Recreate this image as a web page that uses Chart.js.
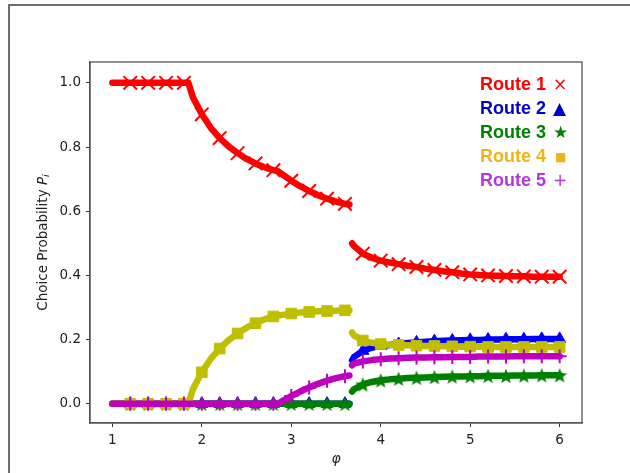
<!DOCTYPE html>
<html>
<head>
<meta charset="utf-8">
<script src="https://cdn.jsdelivr.net/npm/chart.js@4.4.0/dist/chart.umd.min.js"></script>
<style>
  html, body { margin: 0; padding: 0; background: #fff; }
  #wrap { width: 630px; height: 473px; }
</style>
</head>
<body>
<div id="wrap"><canvas id="chart" width="630" height="473"></canvas></div>
<script>
// phi grid before and after the jump
const phiLeft = [1.0, 1.1, 1.2, 1.3, 1.4, 1.5, 1.6, 1.7, 1.8, 1.85, 1.9, 2.0, 2.1, 2.2, 2.3, 2.4, 2.5,
  2.6, 2.7, 2.8, 2.85, 2.9, 3.0, 3.1, 3.2, 3.3, 3.4, 3.5, 3.6, 3.65];
const phiRight = [3.68, 3.7, 3.8, 3.9, 4.0, 4.1, 4.2, 4.3, 4.4, 4.5, 4.6, 4.7, 4.8, 4.9, 5.0,
  5.1, 5.2, 5.3, 5.4, 5.5, 5.6, 5.7, 5.8, 5.9, 6.0];

const route1Left = [1, 1, 1, 1, 1, 1, 1, 1, 1, 1, 0.955, 0.902, 0.86, 0.828, 0.802, 0.781, 0.763,
  0.749, 0.737, 0.728, 0.725, 0.715, 0.695, 0.678, 0.663, 0.65, 0.639, 0.63, 0.623, 0.621];
const route2Left = [0, 0, 0, 0, 0, 0, 0, 0, 0, 0, 0, 0, 0, 0, 0, 0, 0, 0, 0, 0, 0, 0, 0, 0, 0, 0, 0, 0, 0, 0];
const route3Left = [0, 0, 0, 0, 0, 0, 0, 0, 0, 0, 0, 0, 0, 0, 0, 0, 0, 0, 0, 0, 0, 0, 0, 0, 0, 0, 0, 0, 0, 0];
const route4Left = [0, 0, 0, 0, 0, 0, 0, 0, 0, 0, 0.045, 0.098, 0.14, 0.172, 0.198, 0.219, 0.237,
  0.251, 0.263, 0.272, 0.275, 0.277, 0.281, 0.284, 0.286, 0.288, 0.289, 0.29, 0.291, 0.291];
const route5Left = [0, 0, 0, 0, 0, 0, 0, 0, 0, 0, 0, 0, 0, 0, 0, 0, 0, 0, 0, 0, 0, 0.008, 0.024,
  0.038, 0.051, 0.062, 0.072, 0.08, 0.086, 0.088];

const route1Right = [0.50, 0.492, 0.468, 0.455, 0.446, 0.440, 0.435, 0.430, 0.426, 0.421, 0.417, 0.413,
  0.410, 0.406, 0.403, 0.401, 0.400, 0.399, 0.398, 0.397, 0.397, 0.396, 0.396, 0.396, 0.396];
const route2Right = [0.135, 0.145, 0.165, 0.175, 0.180, 0.183, 0.186, 0.189, 0.191, 0.193, 0.195, 0.196,
  0.197, 0.198, 0.199, 0.199, 0.200, 0.200, 0.201, 0.201, 0.201, 0.202, 0.202, 0.202, 0.202];
const route3Right = [0.038, 0.045, 0.060, 0.068, 0.073, 0.076, 0.078, 0.080, 0.081, 0.082, 0.083, 0.084,
  0.085, 0.085, 0.086, 0.086, 0.087, 0.087, 0.087, 0.088, 0.088, 0.088, 0.089, 0.089, 0.089];
const route4Right = [0.222, 0.213, 0.197, 0.190, 0.186, 0.184, 0.183, 0.182, 0.181, 0.180, 0.180, 0.179,
  0.179, 0.178, 0.178, 0.178, 0.177, 0.177, 0.177, 0.177, 0.177, 0.177, 0.177, 0.177, 0.177];
const route5Right = [0.120, 0.125, 0.132, 0.136, 0.139, 0.141, 0.142, 0.143, 0.144, 0.144, 0.145, 0.145,
  0.146, 0.146, 0.146, 0.147, 0.147, 0.147, 0.147, 0.148, 0.148, 0.148, 0.148, 0.148, 0.148];

const routeNames = ['Route 1', 'Route 2', 'Route 3', 'Route 4', 'Route 5'];
const legendSymbols = ['\u00d7', '\u25b2', '\u2605', '\u25a0', '+'];
const legendSymbolSize = [17, 17, 17, 12, 17];
const xTicks = [1, 2, 3, 4, 5, 6];
const yTicks = [0, 0.2, 0.4, 0.6, 0.8, 1.0];

const lineColors = ['#ff0000', '#0000ff', '#008000', '#bfbf00', '#bf00bf'];
const textColors = ['#ff0000', '#0000cc', '#008000', '#f0b418', '#b437dc'];

// filled five point star for route 3
function starImage(size, color) {
  const c = document.createElement('canvas');
  c.width = size; c.height = size;
  const g = c.getContext('2d');
  const cx = size / 2, cy = size / 2 + 0.8, R = size / 2, r = R * 0.42;
  g.beginPath();
  for (let i = 0; i < 10; i++) {
    const rad = (i % 2 === 0) ? R : r;
    const a = -Math.PI / 2 + i * Math.PI / 5;
    g.lineTo(cx + rad * Math.cos(a), cy + rad * Math.sin(a));
  }
  g.closePath();
  g.fillStyle = color;
  g.fill();
  return c;
}

const allPhi = [...phiLeft, null, ...phiRight];
const marked = p => p !== null && p > 1.1 && Math.abs(p * 5 - Math.round(p * 5)) < 1e-6;

function series(left, right) {
  return [
    ...phiLeft.map((x, i) => ({ x, y: left[i] })),
    { x: 3.665, y: null },
    ...phiRight.map((x, i) => ({ x, y: right[i] }))
  ];
}

const markers = [
  { style: 'crossRot', r: 9.5, w: 2 },
  { style: 'triangle', r: 7, w: 1 },
  { style: starImage(16, '#008000'), r: 7, w: 1 },
  { style: 'rect', r: 7.5, w: 1 },
  { style: 'cross', r: 7, w: 2 }
];

const values = [
  [route1Left, route1Right],
  [route2Left, route2Right],
  [route3Left, route3Right],
  [route4Left, route4Right],
  [route5Left, route5Right]
];

const datasets = values.map((v, k) => ({
  label: routeNames[k],
  data: series(v[0], v[1]),
  borderColor: lineColors[k],
  backgroundColor: lineColors[k],
  borderWidth: 6.5,
  borderCapStyle: 'round',
  borderJoinStyle: 'round',
  tension: 0,
  spanGaps: false,
  pointStyle: markers[k].style,
  pointRadius: allPhi.map(p => marked(p) ? markers[k].r : 0),
  pointBorderWidth: markers[k].w,
  pointBorderColor: lineColors[k],
  pointBackgroundColor: lineColors[k],
  order: 5 - k
}));

const tickFont = { family: '"DejaVu Sans", sans-serif', size: 13.5 };

const decor = {
  id: 'decor',
  beforeDraw(chart) {
    const ctx = chart.ctx;
    ctx.save();
    ctx.fillStyle = '#fff';
    ctx.fillRect(0, 0, chart.width, chart.height);
    ctx.strokeStyle = '#6e6e6e';
    ctx.lineWidth = 2;
    ctx.beginPath();
    ctx.moveTo(9, chart.height);
    ctx.lineTo(9, 5);
    ctx.lineTo(chart.width, 5);
    ctx.stroke();
    ctx.restore();
  },
  afterDraw(chart) {
    const ctx = chart.ctx;
    const a = chart.chartArea;
    ctx.save();
    // axes box
    ctx.strokeStyle = '#555';
    ctx.lineWidth = 1.3;
    ctx.strokeRect(a.left, a.top, a.right - a.left, a.bottom - a.top);

    // x title
    ctx.fillStyle = '#222';
    ctx.textAlign = 'center';
    ctx.textBaseline = 'middle';
    ctx.font = 'italic 14px "DejaVu Sans", sans-serif';
    ctx.fillText('\u03c6', (a.left + a.right) / 2, 459);

    // y title with italic P and subscript i
    ctx.translate(43, (a.top + a.bottom) / 2);
    ctx.rotate(-Math.PI / 2);
    const partMain = 'Choice Probability ';
    ctx.textAlign = 'left';
    ctx.font = '13.5px "DejaVu Sans", sans-serif';
    const w1 = ctx.measureText(partMain).width;
    ctx.font = 'italic 13.5px "DejaVu Sans", sans-serif';
    const w2 = ctx.measureText('P').width;
    ctx.font = 'italic 9.5px "DejaVu Sans", sans-serif';
    const w3 = ctx.measureText('i').width;
    let x0 = -(w1 + w2 + w3) / 2;
    ctx.font = '13.5px "DejaVu Sans", sans-serif';
    ctx.fillText(partMain, x0, 0);
    x0 += w1;
    ctx.font = 'italic 13.5px "DejaVu Sans", sans-serif';
    ctx.fillText('P', x0, 0);
    x0 += w2;
    ctx.font = 'italic 9.5px "DejaVu Sans", sans-serif';
    ctx.fillText('i', x0, 4);
    ctx.restore();

    // legend: coloured names followed by their marker glyph
    ctx.save();
    ctx.textAlign = 'left';
    ctx.textBaseline = 'alphabetic';
    routeNames.forEach((name, k) => {
      const y = 89.5 + k * 24;
      ctx.fillStyle = textColors[k];
      ctx.font = 'bold 18px "Liberation Sans", Arial, sans-serif';
      ctx.fillText(name, 480, y);
      const w = ctx.measureText(name + ' ').width;
      ctx.font = legendSymbolSize[k] + 'px "DejaVu Sans", sans-serif';
      ctx.fillText(legendSymbols[k], 480 + w + (k === 3 ? 4 : 2), y - (k === 3 ? 1 : 0));
    });
    ctx.restore();
  }
};

new Chart(document.getElementById('chart'), {
  type: 'line',
  data: { datasets },
  options: {
    responsive: false,
    animation: false,
    devicePixelRatio: 1,
    layout: { padding: { top: 62, right: 48, left: 0, bottom: 0 } },
    plugins: { legend: { display: false }, tooltip: { enabled: false } },
    scales: {
      x: {
        type: 'linear',
        min: 0.75,
        max: 6.25,
        afterBuildTicks: s => { s.ticks = xTicks.map(v => ({ value: v })); },
        afterFit: s => { s.height = 50; },
        grid: { drawOnChartArea: false, drawTicks: true, tickLength: 4, tickColor: '#333' },
        border: { display: true, color: '#555', width: 1.3 },
        ticks: { font: tickFont, color: '#222', padding: 5, maxRotation: 0, callback: v => String(v) }
      },
      y: {
        type: 'linear',
        min: -0.06,
        max: 1.065,
        afterBuildTicks: s => { s.ticks = yTicks.map(v => ({ value: v })); },
        afterFit: s => { s.width = 90; },
        grid: { drawOnChartArea: false, drawTicks: true, tickLength: 4, tickColor: '#333' },
        border: { display: true, color: '#555', width: 1.3 },
        ticks: { font: tickFont, color: '#222', padding: 5, callback: v => v.toFixed(1) }
      }
    }
  },
  plugins: [decor]
});
</script>
</body>
</html>
